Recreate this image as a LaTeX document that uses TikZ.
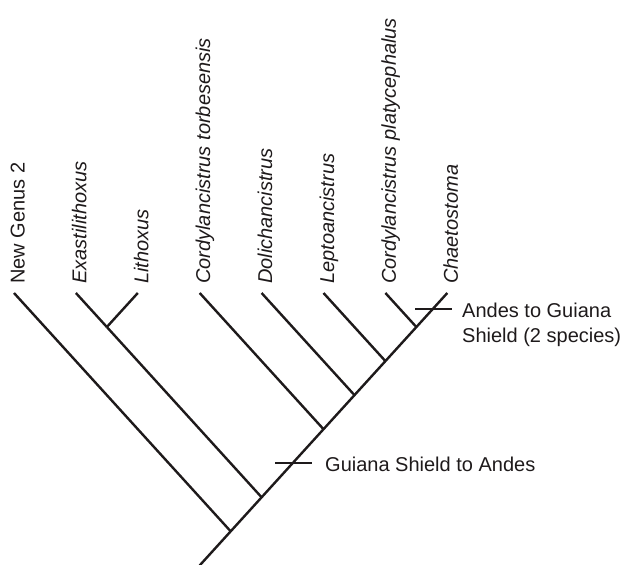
\documentclass[tikz,border=0pt]{standalone}
\usepackage{fontspec}
\setmainfont{Liberation Sans}
\usetikzlibrary{calc}
\definecolor{ink}{RGB}{30,26,27}
\begin{document}
\begin{tikzpicture}[x=1bp,y=-1bp,
  branch/.style={line width=2.4bp, draw=ink},
  tickmark/.style={line width=2.2bp, draw=ink},
  tiplabel/.style={rotate=90, anchor=base west, inner sep=0pt, text=ink,
    font=\fontsize{20bp}{24bp}\selectfont\itshape},
  uplabel/.style={tiplabel, font=\fontsize{20bp}{24bp}\selectfont\upshape},
  note/.style={anchor=base west, inner sep=0pt, text=ink,
    font=\fontsize{20bp}{24bp}\selectfont}]
\useasboundingbox (0,0) rectangle (626,565);
% tips
\coordinate (t1) at (14,293);
\coordinate (t2) at (75.9,293);
\coordinate (t3) at (137.8,293);
\coordinate (t4) at (199.7,293);
\coordinate (t5) at (261.6,293);
\coordinate (t6) at (323.5,293);
\coordinate (t7) at (385.4,293);
\coordinate (t8) at (447.3,293);
% internal nodes
\coordinate (n8) at (416.35,327.0);
\coordinate (n7) at (385.4,361.1);
\coordinate (n6) at (354.45,395.1);
\coordinate (n5) at (323.5,429.2);
\coordinate (n4) at (261.6,497.3);
\coordinate (n23) at (106.85,327.0);
\coordinate (n3) at (230.65,531.3);
\coordinate (root) at (199.7,565.4);
% branches
\draw[branch] (root) -- (t8);
\draw[branch] (t1) -- (n3);
\draw[branch] (n23) -- (n4);
\draw[branch] (t2) -- (n23);
\draw[branch] (t3) -- (n23);
\draw[branch] (t4) -- (n5);
\draw[branch] (t5) -- (n6);
\draw[branch] (t6) -- (n7);
\draw[branch] (t7) -- (n8);
% tick marks
\coordinate (k1a) at (275,463);
\coordinate (k1b) at (312,463);
\coordinate (k2a) at (415,309);
\coordinate (k2b) at (452,309);
\draw[tickmark] (k1a) -- (k1b);
\draw[tickmark] (k2a) -- (k2b);
% tip labels
\node[uplabel] (l1) at ($(t1)+(10.5,-9)$) {New Genus 2};
\node[tiplabel] (l2) at ($(t2)+(10.5,-9)$) {Exastilithoxus};
\node[tiplabel] (l3) at ($(t3)+(10.5,-9)$) {Lithoxus};
\node[tiplabel] (l4) at ($(t4)+(10.5,-9)$) {Cordylancistrus torbesensis};
\node[tiplabel] (l5) at ($(t5)+(10.5,-9)$) {Dolichancistrus};
\node[tiplabel] (l6) at ($(t6)+(10.5,-9)$) {Leptoancistrus};
\node[tiplabel] (l7) at ($(t7)+(10.5,-9)$) {Cordylancistrus platycephalus};
\node[tiplabel] (l8) at ($(t8)+(10.5,-9)$) {Chaetostoma};
% notes
\node[note] (g1) at (325,471) {Guiana Shield to Andes};
\node[note] (a1) at (462,317) {Andes to Guiana};
\node[note] (a2) at (462,342) {Shield (2 species)};
\end{tikzpicture}
\end{document}
